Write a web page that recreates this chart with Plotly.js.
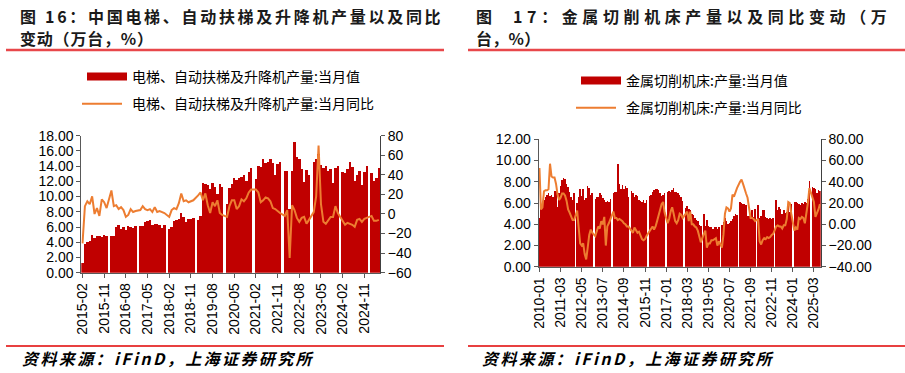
<!DOCTYPE html>
<html>
<head>
<meta charset="utf-8">
<script src="https://cdn.plot.ly/plotly-3.0.1.min.js"></script>
<style>
  html, body { margin: 0; padding: 0; background: #fff; }
  #chart { width: 905px; height: 373px; }
  .annotation[data-index="0"] text { letter-spacing: 2.7px; }
  .annotation[data-index="1"] text { letter-spacing: 0.8px; }
  .annotation[data-index="2"] text { letter-spacing: 4.6px; }
  .annotation[data-index="3"] text { letter-spacing: 0.3px; }
  .annotation[data-index="4"] text { letter-spacing: 2.4px; }
  .annotation[data-index="5"] text { letter-spacing: 2.4px; }
  .legend path.js-line, .legend2 path.js-line { d: path("M0,0h40"); }
</style>
</head>
<body>
<div id="chart"></div>
<script>
// ---------- Figure 16: elevators, escalators and lifts (万台, %) ----------
const elevStart = [2015, 2];   // first month shown
const elevEnd = [2025, 5];     // last month shown
const elevTickLabels = ["2015-02","2015-11","2016-08","2017-05","2018-02","2018-11","2019-08",
  "2020-05","2021-02","2021-11","2022-08","2023-05","2024-02","2024-11"];
const elevName = "电梯、自动扶梯及升降机产量:当月值";
const elevYoyName = "电梯、自动扶梯及升降机产量:当月同比";
// monthly output (万台), January not reported (null)
const elevOutput = [
  1.3, 3.8, 4.0, 4.2, 5.0, 4.6, 4.8, 4.8, 4.7, 5.0, 4.8,               // 2015 Feb-Dec
  null, 4.8, 4.8, 6.0, 6.3, 5.8, 6.0, 5.6, 6.1, 6.0, 5.9, 6.1,        // 2016
  null, 6.1, 6.2, 6.6, 6.8, 6.9, 6.3, 6.4, 6.4, 6.3, 5.9, 6.3,        // 2017
  null, 5.7, 6.0, 6.8, 6.9, 7.0, 7.9, 7.3, 6.6, 7.0, 7.1, 7.2,        // 2018
  null, 6.9, 7.5, 11.8, 11.7, 11.5, 11.0, 11.8, 11.2, 10.4, 11.7, 11.3, // 2019
  null, 9.0, 11.1, 11.7, 12.4, 12.2, 12.4, 12.6, 12.8, 12.0, 13.2, 13.7, // 2020
  null, 12.3, 14.0, 13.9, 14.9, 14.4, 14.6, 14.9, 14.4, 12.8, 14.3, 14.6, // 2021
  null, 13.3, 13.3, 8.4, 13.3, 17.2, 15.2, 15.0, 13.6, 11.9, 13.5, 12.8,  // 2022
  null, 14.6, 15.0, 15.6, 14.1, 13.8, 14.0, 13.3, 13.6, 11.8, 13.7, 14.0, // 2023
  null, 13.2, 13.1, 13.6, 14.6, 13.9, 12.0, 12.9, 13.4, 11.5, 13.2, 14.0, // 2024
  null, 13.1, 12.1, 12.5, 13.7                                          // 2025 Jan-May
];
// year-on-year (%)
const elevYoy = [
  -30, 8, 13, 10, 18, 0, 6, -2, 15, 12, 6,
  null, 24, 8, 9, 5, 7, 4, -3, -1, 5, 2, 3,
  null, 4, 8, 5, 4, 5, 2, 7, 2, 3, 2, 1,
  null, -3, 4, 6, 5, 11, 21, 13, 14, 12, 13, 14,
  null, 19, 22, 14, 21, 9, 1, 12, 8, 14, 1, -1,
  null, -3, 8, 14, 14, 5, 8, 15, 13, 16, 22, 25,
  null, 25, 22, 12, 14, 17, 16, 13, 6, 5, 3, 1,
  null, -2, 4, -45, 9, 4, -4, -8, -4, -3, -10, -6,
  null, 2, 18, 70, 10, -8, -10, -6, -3, -3, 8, 1,
  null, -8, -11, -9, -10, -11, -13, -6, -5, -8, -5, -4,
  null, -2, -7, -7, -6
];

// ---------- Figure 17: metal-cutting machine tools (万台, %) ----------
const toolStart = [2010, 1];
const toolEnd = [2025, 7];
const toolTickLabels = ["2010-01","2011-03","2012-05","2013-07","2014-09","2015-11","2017-01",
  "2018-03","2019-05","2020-07","2021-09","2022-11","2024-01","2025-03"];
const toolName = "金属切削机床:产量:当月值";
const toolYoyName = "金属切削机床:产量:当月同比";
const toolOutput = [
  4.6, 5.4, 6.0, 6.3, 6.6, 6.8, 6.9, 6.7, 6.8, 6.6, 7.1, 7.1,        // 2010
  5.6, 6.9, 7.6, 8.2, 8.4, 8.3, 7.8, 7.5, 7.0, 6.6, 6.3, 6.9,        // 2011
  null, 6.0, 6.6, 7.3, 6.7, 7.3, 6.3, 6.5, 7.6, 7.4, 6.8, 6.9,       // 2012
  null, 6.4, 6.6, 6.6, 6.9, 6.8, 6.5, 6.3, 6.1, 6.2, 6.1, 6.4,       // 2013
  null, 6.9, 7.0, 7.0, 9.7, 7.8, 7.3, 7.7, 7.3, 7.6, 7.4, 6.6,       // 2014
  null, 7.1, 6.9, 6.6, 6.8, 6.7, 6.3, 6.2, 6.1, 6.3, 6.0, 6.3,       // 2015
  null, 6.7, 6.8, 7.0, 7.2, 7.3, 7.3, 7.2, 6.9, 6.7, 6.8, 6.9,       // 2016
  null, 7.0, 7.1, 7.0, 7.2, 7.4, 7.0, 7.0, 6.9, 6.8, 6.6, 6.2,       // 2017
  null, 5.5, 5.7, 5.4, 5.3, 5.0, 4.9, 4.6, 4.4, 4.3, 3.9, 3.8,       // 2018
  null, 5.0, 3.8, 4.4, 3.8, 3.7, 3.7, 3.6, 3.7, 3.7, 3.6, 3.7,       // 2019
  null, 3.9, 4.2, 4.6, 4.3, 4.0, 4.1, 4.3, 4.5, 4.8, 5.0, 4.9,       // 2020
  null, 6.1, 6.0, 5.9, 5.9, 5.8, 4.8, 4.8, 4.9, 5.3, 4.7, 5.4,       // 2021
  null, 5.8, 4.6, 4.8, 5.3, 5.3, 4.7, 4.6, 4.5, 4.6, 4.5, 4.6,       // 2022
  null, 6.3, 5.3, 5.6, 5.4, 5.0, 5.3, 5.1, 5.2, 5.8, 5.2, 5.9,       // 2023
  null, 6.1, 6.1, 6.0, 5.9, 5.8, 6.0, 5.9, 6.1, 6.0, 6.4, 8.1,       // 2024
  null, 7.5, 7.4, 7.3, 6.9, 7.2, 7.1                                 // 2025 Jan-Jul
];
const toolYoy = [
  53, 14, 16, 31, 32, 32, 33, 57, 45, 44, 44, 38,
  28, 23, 25, 29, 29, 27, 22, 14, 11, 7, 4, 4,
  null, 13, -3, -18, -20, -18, -28, -33, -22, -10, -5, -8,
  null, -11, -5, -2, -4, 3, 0, 7, -20, -2, 1, 5,
  null, 12, 6, 6, 4, 5, 4, 3, 1, 0, -2, -2,
  null, -6, -8, -3, -5, -8, -7, -11, -14, -15, -14, -11,
  null, -7, -4, -2, -5, -2, 3, 9, 14, 19, 21, 11,
  null, 1, 5, 12, 16, 10, 3, 1, 4, 10, 9, 6,
  null, 10, 12, 3, 12, 0, 0, -2, -3, -6, -11, -17,
  null, -9, -6, -22, -18, -18, -15, -15, -14, -13, -20, -16,
  null, -22, -10, 10, 16, 15, 12, 15, 28, 26, 31, 34,
  null, 40, 42, 38, 32, 29, 25, 17, 6, 6, 5, 3,
  null, 5, -16, -19, -15, -13, -14, -12, -13, -12, -10, -9,
  null, -2, -1, -2, -2, -4, -1, -1, 5, 21, 20, 10,
  null, -6, -3, -5, 6, 5, 7, 6, 1, 9, 20, 34,
  null, 26, 21, 7, 10, 14, 19
];

// ---------- helpers ----------
function monthRange(start, end) {
  const out = [];
  let y = start[0], m = start[1];
  while (y < end[0] || (y === end[0] && m <= end[1])) {
    out.push(y + "-" + String(m).padStart(2, "0"));
    m++; if (m > 12) { m = 1; y++; }
  }
  return out;
}
const elevMonths = monthRange(elevStart, elevEnd);
const toolMonths = monthRange(toolStart, toolEnd);

const W = 905, H = 373;
const px = x => x / W;
const py = y => 1 - y / H;

const RED = "#C00000";
const ORANGE = "#ED7D31";
const LATIN = "Liberation Sans, Arial, sans-serif";
const CJK = "Noto Sans CJK SC, sans-serif";
const AXC = "#595959";

const traces = [
  { type: "bar", x: elevMonths, y: elevOutput, name: elevName, marker: { color: RED, line: { width: 0 } },
    xaxis: "x", yaxis: "y", legend: "legend", legendgroup: "a1" },
  { type: "scatter", mode: "lines", x: elevMonths, y: elevYoy, name: elevYoyName, connectgaps: true,
    line: { color: ORANGE, width: 2 }, xaxis: "x", yaxis: "y2", legend: "legend", legendgroup: "a2" },
  { type: "bar", x: toolMonths, y: toolOutput, name: toolName, marker: { color: RED, line: { width: 0 } },
    xaxis: "x2", yaxis: "y3", legend: "legend2", legendgroup: "b1" },
  { type: "scatter", mode: "lines", x: toolMonths, y: toolYoy, name: toolYoyName, connectgaps: true,
    line: { color: ORANGE, width: 2 }, xaxis: "x2", yaxis: "y4", legend: "legend2", legendgroup: "b2" }
];

const xBase = {
  type: "category", tickangle: -90, ticks: "outside", ticklen: 4, tickcolor: AXC,
  showline: true, linecolor: AXC, linewidth: 1, showgrid: false, zeroline: false,
  tickfont: { family: LATIN, size: 14, color: "#000" }, fixedrange: true
};
const yBase = {
  ticks: "outside", ticklen: 4, tickcolor: AXC, showline: true, linecolor: AXC, linewidth: 1,
  showgrid: false, zeroline: false, tickfont: { family: LATIN, size: 14, color: "#000" }, fixedrange: true
};

const legendBase = {
  bgcolor: "rgba(0,0,0,0)", borderwidth: 0, font: { family: CJK, size: 14, color: "#000" },
  traceorder: "grouped", tracegroupgap: 6, itemwidth: 40, xanchor: "left", yanchor: "top", itemclick: false
};

const layout = {
  width: W, height: H, margin: { l: 0, r: 0, t: 0, b: 0 },
  paper_bgcolor: "#fff", plot_bgcolor: "#fff", bargap: 0, barmode: "overlay",
  showlegend: true,
  xaxis: Object.assign({}, xBase, { domain: [px(81.3), px(380)], anchor: "y",
    range: [-0.5, elevMonths.length - 0.5], tickvals: elevTickLabels, ticktext: elevTickLabels }),
  yaxis: Object.assign({}, yBase, { domain: [py(272.7), py(135.7)], anchor: "x",
    range: [0, 18], dtick: 2, tickformat: ".2f" }),
  yaxis2: Object.assign({}, yBase, { overlaying: "y", side: "right", anchor: "x",
    range: [-60, 80], dtick: 20, linecolor: "#404040" }),
  xaxis2: Object.assign({}, xBase, { domain: [px(538.7), px(820.7)], anchor: "y3",
    range: [-0.5, toolMonths.length - 0.5], tickvals: toolTickLabels, ticktext: toolTickLabels }),
  yaxis3: Object.assign({}, yBase, { domain: [py(266.8), py(139.3)], anchor: "x2",
    range: [0, 12], dtick: 2, tickformat: ".2f" }),
  yaxis4: Object.assign({}, yBase, { overlaying: "y3", side: "right", anchor: "x2",
    range: [-40, 80], dtick: 20, tickformat: ".2f", linecolor: "#404040" }),
  legend: Object.assign({}, legendBase, { x: px(82), y: py(61) }),
  legend2: Object.assign({}, legendBase, { x: px(576), y: py(65) }),
  annotations: [
    { text: "图 16：中国电梯、自动扶梯及升降机产量以及同比", x: px(18), y: py(16) },
    { text: "变动（万台，%）", x: px(18), y: py(38) },
    { text: "图\u00a0\u00a017：金属切削机床产量以及同比变动（万", x: px(474), y: py(16) },
    { text: "台，%）", x: px(474), y: py(38) }
  ].map(a => Object.assign({ xref: "paper", yref: "paper", xanchor: "left", yanchor: "middle", align: "left",
      showarrow: false, font: { family: CJK, size: 16, color: "#1a1a1a", weight: "bold" } }, a))
   .concat([
    { text: "资料来源：iFinD，上海证券研究所", x: px(20), y: py(358) },
    { text: "资料来源：iFinD，上海证券研究所", x: px(480), y: py(358) }
  ].map(a => Object.assign({ xref: "paper", yref: "paper", xanchor: "left", yanchor: "middle", align: "left",
      showarrow: false, font: { family: CJK, size: 16, color: "#000", weight: "bold", style: "italic" } }, a))),
  shapes: [
    { type: "line", xref: "paper", yref: "paper", x0: px(6), x1: px(444), y0: py(50), y1: py(50),
      line: { color: "#E8474A", width: 2.5 } },
    { type: "line", xref: "paper", yref: "paper", x0: px(468), x1: px(905), y0: py(50), y1: py(50),
      line: { color: "#E8474A", width: 2.5 } },
    { type: "line", xref: "paper", yref: "paper", x0: px(6), x1: px(444), y0: py(346), y1: py(346),
      line: { color: "#E00000", width: 1.5 } },
    { type: "line", xref: "paper", yref: "paper", x0: px(468), x1: px(905), y0: py(346), y1: py(346),
      line: { color: "#E00000", width: 1.5 } }
  ]
};

Plotly.newPlot("chart", traces, layout, { displayModeBar: false, staticPlot: true }).then(function (gd) {
  // widen the bar legend swatches to the flat rectangle used in the reference
  document.querySelectorAll(".legend .traces, .legend2 .traces").forEach(function (t) {
    if (t.querySelectorAll("path.js-line").length) return;
    t.querySelectorAll(".legendpoints path").forEach(function (p) {
      p.setAttribute("d", "M20,4H-20V-4H20Z");
    });
  });
});
</script>
</body>
</html>
